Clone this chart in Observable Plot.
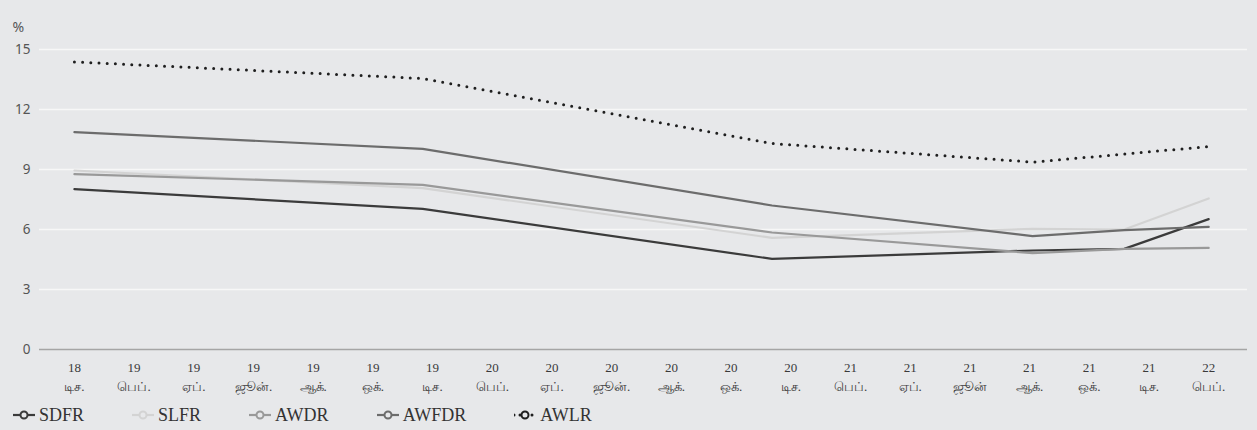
<!DOCTYPE html>
<html>
<head>
<meta charset="utf-8">
<script src="https://cdn.jsdelivr.net/npm/d3@7"></script>
<script src="https://cdn.jsdelivr.net/npm/@observablehq/plot@0.6"></script>
<style>
  html, body { margin: 0; padding: 0; background: #e7e8ea; }
  #chart svg { display: block; }
</style>
</head>
<body>
<div id="chart"></div>
<div id="legend" style="display:flex;align-items:center;height:30px;padding-left:13px;gap:48px;font-family:'Liberation Serif';font-size:18px;color:#333;"></div>
<script>
const obsMonths = [0, 11.67, 23.37, 32.1, 35.17, 38];
const seriesNames = ["SDFR", "SLFR", "AWDR", "AWFDR", "AWLR"];
const SDFR  = [8.02, 7.03, 4.53, 4.95, 5.03, 6.52];
const SLFR  = [8.95, 8.07, 5.58, 6.03, 6.00, 7.55];
const AWDR  = [8.77, 8.23, 5.85, 4.82, 5.03, 5.08];
const AWFDR = [10.87, 10.03, 7.20, 5.67, 5.97, 6.13];
const AWLR  = [14.38, 13.55, 10.30, 9.37, 9.77, 10.15];
const seriesColors = ["#3b3b3b", "#d3d3d3", "#999999", "#6c6c6c", "#1f1f1f"];

// x tick labels (every 2 months from Dec 2018)
const tickMonths = [0, 2, 4, 6, 8, 10, 12, 14, 16, 18, 20, 22, 24, 26, 28, 30, 32, 34, 36, 38];
const tickYears = ["18","19","19","19","19","19","19","20","20","20","20","20","20","21","21","21","21","21","21","22"];
const tickMonthNames = ["டிச.","பெப்.","ஏப்.","ஜூன்.","ஆக்.","ஒக்.","டிச.","பெப்.","ஏப்.","ஜூன்.","ஆக்.","ஒக்.","டிச.","பெப்.","ஏப்.","ஜூன்","ஆக்.","ஒக்.","டிச.","பெப்."];
const yTicks = [0, 3, 6, 9, 12, 15];

const values = {SDFR, SLFR, AWDR, AWFDR, AWLR};
const rows = seriesNames.flatMap(name => obsMonths.map((m, i) => ({series: name, m, v: values[name][i]})));
const colorOf = Object.fromEntries(seriesNames.map((n, i) => [n, seriesColors[i]]));

const solid = seriesNames.filter(n => n !== "AWLR");
const plot = Plot.plot({
  width: 1257,
  height: 400,
  marginLeft: 39,
  marginRight: 10,
  marginTop: 49,
  marginBottom: 51,
  style: {background: "transparent", fontFamily: "Noto Sans", fontSize: "13px", color: "#555"},
  x: {domain: [-1.17, 39.3], axis: null},
  y: {domain: [0, 15], axis: null},
  marks: [
    Plot.gridY(yTicks.filter(t => t > 0), {stroke: "#f7f7f7", strokeOpacity: 1, strokeWidth: 1.6}),
    Plot.ruleY([0], {stroke: "#a5a5a5", strokeWidth: 1.6}),
    Plot.axisY(yTicks, {tickSize: 0, tickPadding: 9, fill: "#555", fontSize: 13.5, label: null}),
    Plot.axisX(tickMonths, {
      tickSize: 0, tickPadding: 10, label: null, fill: "#3a3a3a",
      fontSize: 13, lineHeight: 1.4, ariaLabel: "xticks",
      tickFormat: (d) => { const i = tickMonths.indexOf(d); return tickYears[i] + "\n" + tickMonthNames[i]; }
    }),
    Plot.text(["%"], {frameAnchor: "top-left", dx: -27, dy: -27, textAnchor: "start", fill: "#555", fontSize: 14}),
    ...solid.map(n => Plot.line(rows.filter(r => r.series === n), {x: "m", y: "v", stroke: colorOf[n], strokeWidth: 2.2})),
    Plot.line(rows.filter(r => r.series === "AWLR"), {x: "m", y: "v", stroke: colorOf.AWLR, strokeWidth: 3, strokeDasharray: "0 8.2", strokeLinecap: "round"})
  ]
});
document.getElementById("chart").appendChild(plot);

// Serif font for the x tick labels (the two-line labels contain tspans)
d3.select(plot).selectAll("text").each(function() {
  const t = d3.select(this);
  if (t.selectAll("tspan").size() > 0) {
    t.attr("font-family", "Liberation Serif").style("font-family", "'Liberation Serif'");
    t.selectAll("tspan").style("font-family", "'Liberation Serif'");
  }
});

// Legend
const legend = document.getElementById("legend");
seriesNames.forEach((n, i) => {
  const item = document.createElement("div");
  item.style.cssText = "display:flex;align-items:center;gap:4px;font-family:'Liberation Serif';";
  const dotted = n === "AWLR";
  const c = seriesColors[i];
  item.innerHTML = `<svg width="22" height="12" viewBox="0 0 22 12">
    <line x1="0" y1="6" x2="22" y2="6" stroke="${c}" stroke-width="${dotted ? 3 : 2.2}" ${dotted ? 'stroke-dasharray="0 6" stroke-linecap="round"' : ''}/>
    <circle cx="11" cy="6" r="3.5" fill="#e7e8ea" stroke="${c}" stroke-width="2"/>
  </svg><span style="font-family:'Liberation Serif'">${n}</span>`;
  legend.appendChild(item);
});
</script>
</body>
</html>
